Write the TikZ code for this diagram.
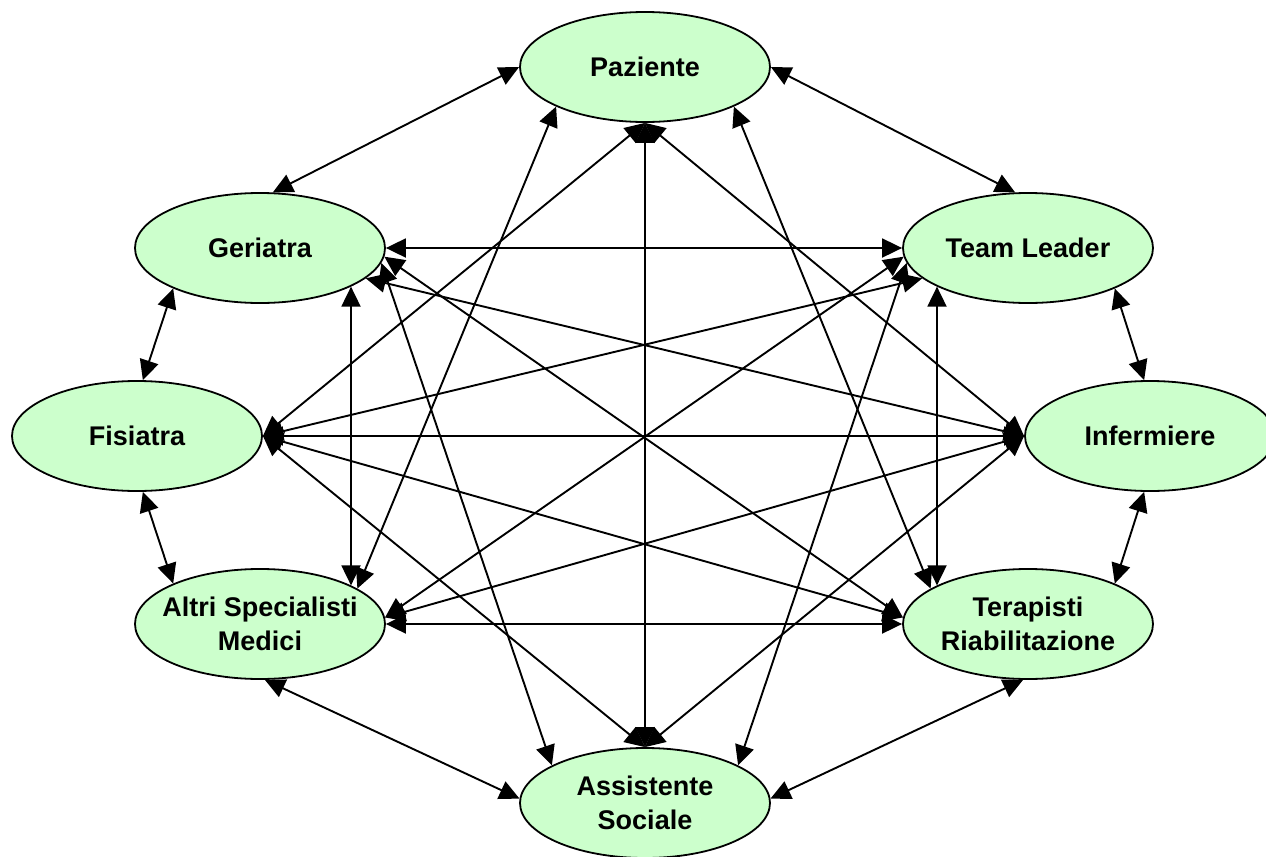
\documentclass[tikz,border=0pt]{standalone}
\usepackage{fontspec}
\setmainfont{Liberation Sans}
\usetikzlibrary{arrows.meta,shapes.geometric}
\definecolor{nodegreen}{RGB}{204,255,204}
\begin{document}
\begin{tikzpicture}[x=0.5pt,y=-0.5pt,
  role/.style={ellipse,draw=black,line width=0.9pt,fill=nodegreen,
    minimum width=125pt,minimum height=55pt,inner xsep=-6pt,inner ysep=0pt,
    align=center,font=\fontsize{13.5}{17}\selectfont\bfseries},
  link/.style={line width=0.95pt,
    {Triangle[length=10pt,width=9.5pt]}-{Triangle[length=10pt,width=9.5pt]}}]
\fill[white] (0,0) rectangle (1266,857);
\useasboundingbox (0,0) rectangle (1266,857);

% the eight team members
\node[role] (pz)  at (645,67)   {Paziente};
\node[role] (ger) at (260,248)  {Geriatra};
\node[role] (tl)  at (1028,248) {Team Leader};
\node[role] (fis) at (137,436)  {Fisiatra};
\node[role] (inf) at (1150,436) {Infermiere};
\node[role] (alt) at (260,624)  {Altri Specialisti\\Medici};
\node[role] (ter) at (1028,624) {Terapisti\\Riabilitazione};
\node[role] (ass) at (645,803)  {Assistente\\Sociale};

% every member communicates with every other one
\draw[link] (pz.180) -- (ger.77);
\draw[link] (pz.0)   -- (tl.103);
\draw[link] (pz.270) -- (ass.90);
\draw[link] (pz.204) -- (alt.20);
\draw[link] (pz.336) -- (ter.160);
\draw[link] (pz.270) -- (fis.0);
\draw[link] (pz.270) -- (inf.180);

\draw[link] (ger.0)   -- (tl.180);
\draw[link] (ger.205) -- (fis.84);
\draw[link] (ger.-23) -- (alt.23);
\draw[link] (ger.-16) -- (inf.180);
\draw[link] (ger.-4)  -- (ter.177);
\draw[link] (ger.-7)  -- (ass.158);

\draw[link] (tl.-25) -- (inf.96);
\draw[link] (tl.203) -- (ter.157);
\draw[link] (tl.196) -- (fis.0);
\draw[link] (tl.184) -- (alt.3);
\draw[link] (tl.187) -- (ass.22);

\draw[link] (fis.0)   -- (inf.180);
\draw[link] (fis.276) -- (alt.155);
\draw[link] (fis.0)   -- (ter.177);
\draw[link] (fis.0)   -- (ass.90);

\draw[link] (inf.264) -- (ter.25);
\draw[link] (inf.180) -- (alt.3);
\draw[link] (inf.180) -- (ass.90);

\draw[link] (alt.0)   -- (ter.180);
\draw[link] (alt.275) -- (ass.178);
\draw[link] (ter.265) -- (ass.2);
\end{tikzpicture}
\end{document}
